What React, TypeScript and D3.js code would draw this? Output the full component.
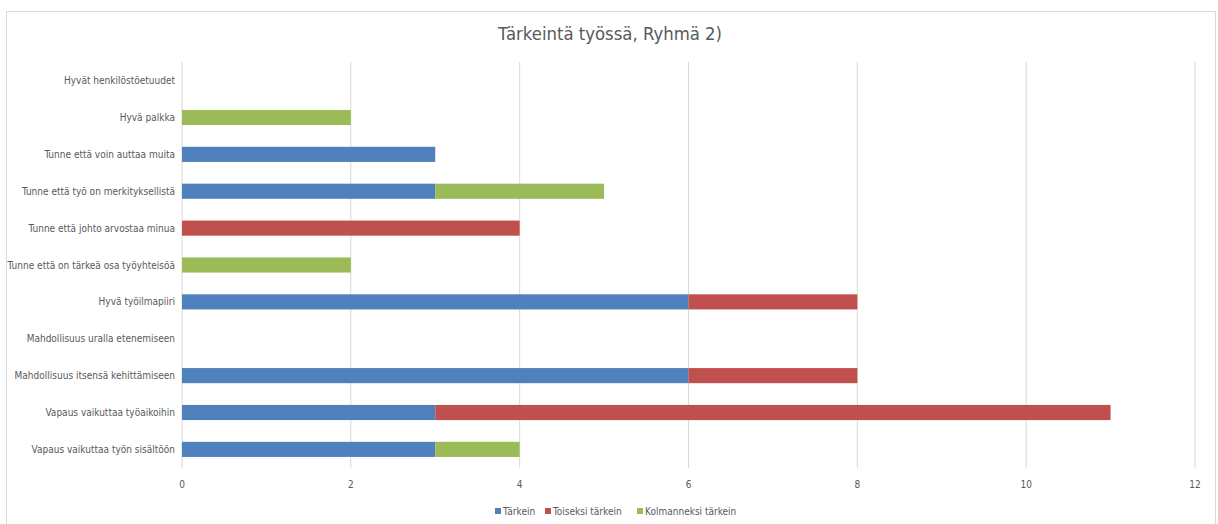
import React from "react";
import * as d3 from "d3";

const categories = [
  "Hyvät henkilöstöetuudet",
  "Hyvä palkka",
  "Tunne että voin auttaa muita",
  "Tunne että työ on merkityksellistä",
  "Tunne että johto arvostaa minua",
  "Tunne että on tärkeä osa työyhteisöä",
  "Hyvä työilmapiiri",
  "Mahdollisuus uralla etenemiseen",
  "Mahdollisuus itsensä kehittämiseen",
  "Vapaus vaikuttaa työaikoihin",
  "Vapaus vaikuttaa työn sisältöön",
];
const tarkein = [0, 0, 3, 3, 0, 0, 6, 0, 6, 3, 3];
const toiseksi = [0, 0, 0, 0, 4, 0, 2, 0, 2, 8, 0];
const kolmanneksi = [0, 2, 0, 2, 0, 2, 0, 0, 0, 0, 1];
const seriesNames = ["Tärkein", "Toiseksi tärkein", "Kolmanneksi tärkein"];
const seriesColors = ["#4F81BD", "#C0504D", "#9BBB59"];
const xTicks = [0, 2, 4, 6, 8, 10, 12];
const title = "Tärkeintä työssä, Ryhmä 2)";

const W = 1218;
const H = 524;
const FONT = "'DejaVu Sans Condensed', 'Liberation Sans Narrow', 'Open Sans', sans-serif";

function Narrow({ x, y, anchor, size, sx = 0.955, children }: any) {
  return (
    <text transform={`translate(${x},${y}) scale(${sx},1)`} textAnchor={anchor} fontSize={size} fill="#595959">
      {children}
    </text>
  );
}

export default function App() {
  const x = d3.scaleLinear().domain([0, 12]).range([182, 1195]);
  const y = d3.scaleBand().domain(categories).range([62, 468]).paddingInner(0.59).paddingOuter(0.3);
  const rows = categories.map((c, i) => ({ cat: c, a: tarkein[i], b: toiseksi[i], c3: kolmanneksi[i] }));
  const stack = d3.stack<any>().keys(["a", "b", "c3"])(rows);

  const legendX = [495, 545, 637];

  return (
    <svg width={W} height={H} style={{ position: "absolute", left: 0, top: 0, background: "#fff" }} fontFamily={FONT}>
      <rect x={6.5} y={11.5} width={1209} height={530} fill="#fff" stroke="#d9d9d9" />
      <Narrow x={W / 2 + 1} y={40} anchor="middle" size={17} sx={1.08}>{title}</Narrow>
      {xTicks.map((t) => (
        <g key={t}>
          <line x1={x(t)} x2={x(t)} y1={62} y2={468} stroke="#d9d9d9" />
          <Narrow x={x(t)} y={488} anchor="middle" size={10.5}>{t}</Narrow>
        </g>
      ))}
      {categories.map((c) => (
        <Narrow key={c} x={175} y={(y(c) as number) + y.bandwidth() / 2 + 3.5} anchor="end" size={10.5}>{c}</Narrow>
      ))}
      {stack.map((s, si) => (
        <g key={si} fill={seriesColors[si]}>
          {s.map((d: any, i: number) =>
            d[1] - d[0] > 0 ? (
              <rect key={i} x={x(d[0])} width={x(d[1]) - x(d[0])} y={y(categories[i])} height={y.bandwidth()} />
            ) : null
          )}
        </g>
      ))}
      {seriesNames.map((n, i) => (
        <g key={n}>
          <rect x={legendX[i]} y={508} width={6} height={6} fill={seriesColors[i]} />
          <Narrow x={legendX[i] + 8} y={515} anchor="start" size={10.5}>{n}</Narrow>
        </g>
      ))}
    </svg>
  );
}
